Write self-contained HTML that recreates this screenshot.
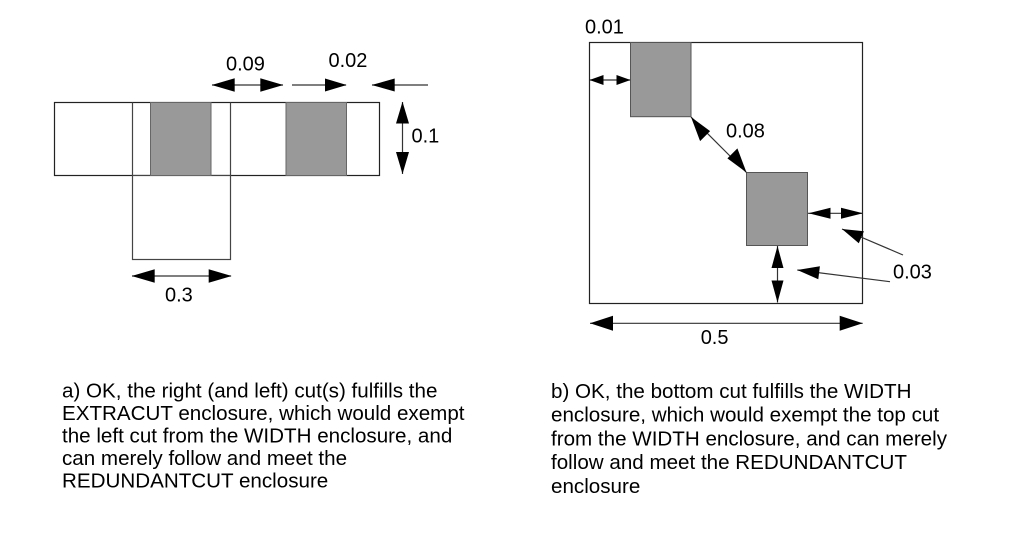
<!DOCTYPE html>
<html><head><meta charset="utf-8"><style>
html,body{margin:0;padding:0;background:#fff;}
svg{display:block;}
text{font-family:"Liberation Sans",Arial,sans-serif;fill:#000;}
.l{font-size:20px;}
.c{font-size:20.6px;}
</style></head><body>
<svg width="1013" height="535" viewBox="0 0 1013 535" xmlns="http://www.w3.org/2000/svg">
<rect x="0" y="0" width="1013" height="535" fill="#fff"/>
<!-- LEFT DIAGRAM -->
<rect x="54.5" y="102.5" width="325" height="73" fill="#fff" stroke="#222" stroke-width="1.2"/>
<rect x="132.5" y="175.5" width="98" height="84" fill="#fff" stroke="#444" stroke-width="1.2"/>
<line x1="132.5" y1="102.5" x2="132.5" y2="175.5" stroke="#444" stroke-width="1.2"/>
<line x1="230.5" y1="102.5" x2="230.5" y2="175.5" stroke="#444" stroke-width="1.2"/>
<rect x="150.5" y="102.5" width="60.5" height="73" fill="#999" stroke="#666" stroke-width="1"/>
<rect x="286" y="102.5" width="60.5" height="73" fill="#999" stroke="#666" stroke-width="1"/>

<g stroke="#333" stroke-width="1.2">
<line x1="212" y1="85" x2="283" y2="85"/>
<line x1="292" y1="85" x2="346" y2="85"/>
<line x1="372" y1="85" x2="428" y2="85"/>
<line x1="402.5" y1="102" x2="402.5" y2="174"/>
<line x1="132" y1="276" x2="231" y2="276"/>
</g>
<g fill="#000">
<polygon points="211.7,85 234.7,78.3 234.7,91.7"/>
<polygon points="283.3,85 260.3,78.3 260.3,91.7"/>
<polygon points="346.7,85 325,78.5 325,91.5"/>
<polygon points="371.7,85 394.7,78.5 394.7,91.5"/>
<polygon points="402.5,101.7 396,123.5 409,123.5"/>
<polygon points="402.5,174 396,152 409,152"/>
<polygon points="131.7,276 154.7,269.3 154.7,282.7"/>
<polygon points="231.7,276 208.7,269.3 208.7,282.7"/>
</g>
<text class="l" x="226" y="70.5">0.09</text>
<text class="l" x="328.5" y="67">0.02</text>
<text class="l" x="411.5" y="142.7">0.1</text>
<text class="l" x="165" y="301.7">0.3</text>

<!-- RIGHT DIAGRAM -->
<rect x="589.5" y="42.5" width="273" height="261" fill="#fff" stroke="#222" stroke-width="1.2"/>
<rect x="630.5" y="42.5" width="60.5" height="74.2" fill="#999" stroke="#555" stroke-width="1"/>
<rect x="746.5" y="172.5" width="61" height="73" fill="#999" stroke="#555" stroke-width="1"/>

<g stroke="#333" stroke-width="1.2">
<line x1="590" y1="80" x2="630" y2="80"/>
<line x1="691" y1="117" x2="746.5" y2="172.5"/>
<line x1="808" y1="213.3" x2="863" y2="213.3"/>
<line x1="777.5" y1="246" x2="777.5" y2="302.5"/>
<line x1="842" y1="229" x2="903" y2="255"/>
<line x1="797.3" y1="270" x2="890" y2="281.7"/>
<line x1="590" y1="323.3" x2="862.7" y2="323.3"/>
</g>
<g fill="#000">
<polygon points="589.5,80 603.5,75 603.5,85"/>
<polygon points="630.5,80 616.5,75 616.5,85"/>
<polygon points="691,117 710.1,131.1 700.1,141.1"/>
<polygon points="746.5,172.5 727.4,158.4 737.4,148.4"/>
<polygon points="808.5,213.3 830.5,207.8 830.5,218.8"/>
<polygon points="863,213.3 841,207.8 841,218.8"/>
<polygon points="777.5,246 771.5,268 783.5,268"/>
<polygon points="777.5,302.5 771.5,280.5 783.5,280.5"/>
<polygon points="842,229 858.8,243.2 863.9,231.2"/>
<polygon points="797.3,270 818.3,279.2 819.9,266.3"/>
<polygon points="590,323.3 613,315.8 613,330.8"/>
<polygon points="862.7,323.3 839.7,315.8 839.7,330.8"/>
</g>
<text class="l" x="585" y="33.3">0.01</text>
<text class="l" x="726" y="137.7">0.08</text>
<text class="l" x="893" y="278.3">0.03</text>
<text class="l" x="700.7" y="344">0.5</text>

<!-- CAPTIONS -->
<text class="c" x="62" y="397.5">a) OK, the right (and left) cut(s) fulfills the</text>
<text class="c" x="62" y="420">EXTRACUT enclosure, which would exempt</text>
<text class="c" x="62" y="442.5">the left cut from the WIDTH enclosure, and</text>
<text class="c" x="62" y="465">can merely follow and meet the</text>
<text class="c" x="62" y="487.5">REDUNDANTCUT enclosure</text>

<text class="c" x="551" y="398">b) OK, the bottom cut fulfills the WIDTH</text>
<text class="c" x="551" y="421.7">enclosure, which would exempt the top cut</text>
<text class="c" x="551" y="445.4">from the WIDTH enclosure, and can merely</text>
<text class="c" x="551" y="469.1">follow and meet the REDUNDANTCUT</text>
<text class="c" x="551" y="492.8">enclosure</text>
</svg>
</body></html>
